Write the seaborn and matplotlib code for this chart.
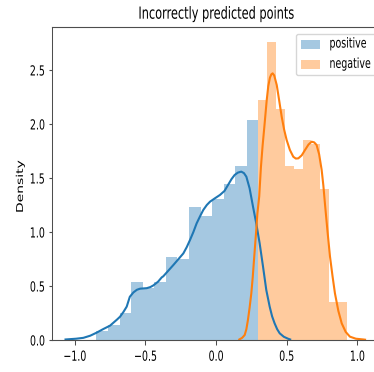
import matplotlib
matplotlib.use("Agg")
import matplotlib.pyplot as plt
from matplotlib.patches import Patch
from matplotlib.patheffects import AbstractPathEffect
from matplotlib.transforms import Affine2D
import seaborn as sns

# ---- histogram of misclassified scores (density per bin) ----
pos_bin_mid = [-0.805, -0.723, -0.641, -0.559, -0.478, -0.396, -0.314,
               -0.232, -0.150, -0.069, 0.013, 0.095, 0.177, 0.259]
pos_density = [0.083, 0.139, 0.247, 0.534, 0.485, 0.534, 0.772,
               0.750, 1.228, 1.148, 1.310, 1.441, 1.614, 2.037]
pos_bin_range = (-0.846, 0.300)

neg_bin_mid = [0.331, 0.394, 0.456, 0.519, 0.581, 0.644, 0.706, 0.769, 0.831, 0.894]
neg_density = [2.222, 2.756, 2.142, 1.614, 1.585, 1.852, 1.815, 1.398, 0.349, 0.349]
neg_bin_range = (0.300, 0.925)

# ---- kernel density curves ----
pos_kde_x = [-1.065, -0.99, -0.939, -0.89, -0.845, -0.80, -0.750, -0.70, -0.679,
             -0.655, -0.632, -0.61, -0.585, -0.56, -0.538, -0.51, -0.49, -0.465,
             -0.444, -0.41, -0.384, -0.373, -0.302, -0.231, -0.207, -0.184, -0.16,
             -0.137, -0.113, -0.090, -0.065, -0.042, -0.01, 0.028, 0.06, 0.085,
             0.11, 0.132, 0.155, 0.179, 0.198, 0.215, 0.238, 0.262, 0.285, 0.309,
             0.333, 0.356, 0.380, 0.397, 0.415, 0.433, 0.451, 0.48, 0.510, 0.525]
pos_kde_y = [0.005, 0.012, 0.02, 0.04, 0.068, 0.10, 0.133, 0.19, 0.216,
             0.26, 0.309, 0.40, 0.44, 0.465, 0.475, 0.478, 0.48, 0.49,
             0.505, 0.54, 0.58, 0.59, 0.694, 0.802, 0.86, 0.926, 1.0,
             1.080, 1.145, 1.204, 1.25, 1.281, 1.31, 1.343, 1.38, 1.435,
             1.49, 1.528, 1.55, 1.559, 1.545, 1.512, 1.404, 1.235, 1.080, 0.895,
             0.679, 0.463, 0.309, 0.22, 0.154, 0.10, 0.062, 0.03, 0.012, 0.005]

neg_kde_x = [0.165, 0.185, 0.203, 0.215, 0.226, 0.238, 0.250, 0.26, 0.269, 0.277,
             0.285, 0.293, 0.306, 0.318, 0.33, 0.342, 0.359, 0.37, 0.382, 0.392,
             0.401, 0.412, 0.430, 0.447, 0.465, 0.482, 0.500, 0.523, 0.547, 0.565,
             0.583, 0.607, 0.630, 0.655, 0.677, 0.695, 0.712, 0.73, 0.748, 0.76,
             0.771, 0.789, 0.807, 0.825, 0.842, 0.866, 0.890, 0.918, 0.948, 0.99,
             1.043, 1.055]
neg_kde_y = [0.005, 0.02, 0.046, 0.10, 0.185, 0.30, 0.432, 0.58, 0.741, 0.88,
             1.019, 1.17, 1.33, 1.60, 1.80, 1.97, 2.22, 2.35, 2.43, 2.46,
             2.469, 2.45, 2.361, 2.22, 2.068, 1.95, 1.852, 1.76, 1.697, 1.68,
             1.682, 1.71, 1.759, 1.81, 1.836, 1.83, 1.806, 1.72, 1.574, 1.43,
             1.265, 1.01, 0.772, 0.59, 0.432, 0.27, 0.154, 0.075, 0.031, 0.012,
             0.005, 0.003]

series_names = ["positive", "negative"]
x_ticks = [-1.0, -0.5, 0.0, 0.5, 1.0]
y_ticks = [0.0, 0.5, 1.0, 1.5, 2.0, 2.5]
chart_title = "Incorrectly predicted points"
y_title = "Density"


class Narrow(AbstractPathEffect):
    """Draw text with condensed glyphs, scaled about a fixed anchor.

    fx / fy give the anchor as a fraction of the glyph extents;
    fy=None anchors vertically on the baseline.
    """

    def __init__(self, sx=1.0, sy=1.0, fx=0.5, fy=0.0):
        super().__init__()
        self._scale = (sx, sy)
        self._frac = (fx, fy)

    def draw_path(self, renderer, gc, tpath, affine, rgbFace=None):
        ext = tpath.get_extents()
        cx = ext.x0 + self._frac[0] * ext.width
        cy = 0.0 if self._frac[1] is None else ext.y0 + self._frac[1] * ext.height
        squeeze = Affine2D().translate(-cx, -cy).scale(*self._scale).translate(cx, cy)
        renderer.draw_path(gc, tpath, squeeze + affine, rgbFace)


SQ = 0.68          # horizontal condensing of the lettering
LEG_FS = 7.0       # legend layout font size
LEG_K = 10.0 / LEG_FS
EDGE = "0.3"

plt.rcParams["font.family"] = ["DejaVu Sans"]

fig = plt.figure(figsize=(3.74, 3.72), dpi=100)
ax = fig.add_axes([0.1382, 0.0860, 0.8775, 0.8414])

sns.histplot(x=pos_bin_mid, weights=pos_density, bins=len(pos_density),
             binrange=pos_bin_range, stat="count", color="C0", alpha=0.4,
             linewidth=0, ax=ax)
sns.lineplot(x=pos_kde_x, y=pos_kde_y, color="C0", linewidth=1.5, ax=ax)
sns.histplot(x=neg_bin_mid, weights=neg_density, bins=len(neg_density),
             binrange=neg_bin_range, stat="count", color="C1", alpha=0.4,
             linewidth=0, ax=ax)
sns.lineplot(x=neg_kde_x, y=neg_kde_y, color="C1", linewidth=1.5, ax=ax)

ax.set_xlim(-1.163, 1.16)
ax.set_ylim(0, 2.898)
ax.set_xticks(x_ticks)
ax.set_yticks(y_ticks)
ax.set_xlabel("")
ax.set_ylabel(y_title, fontsize=10)
ax.yaxis.set_label_coords(-0.0813, 0.49)
ax.set_title(chart_title, fontsize=12)

for side, spine in ax.spines.items():
    spine.set_color(EDGE)
ax.spines["left"].set_linewidth(0.8 * SQ + 0.2)
ax.tick_params(axis="y", length=3.5 * SQ, pad=3.5 * SQ, labelsize=10, color=EDGE)
ax.tick_params(axis="x", length=3.5, pad=3.5, width=0.8 * SQ + 0.2, labelsize=10,
               color=EDGE)

handles = [Patch(facecolor="C0", alpha=0.4, label=series_names[0]),
           Patch(facecolor="C1", alpha=0.4, label=series_names[1])]
leg = ax.legend(handles=handles, loc="upper left", bbox_to_anchor=(0.744, 0.9776),
                borderaxespad=0, fontsize=LEG_FS,
                borderpad=0.4 * LEG_K, labelspacing=1.06,
                handlelength=1.37 * LEG_K, handleheight=0.7 * LEG_K,
                handletextpad=0.65 * LEG_K)

for t in ax.get_xticklabels():
    t.set_path_effects([Narrow(sx=SQ, fx=0.5)])
for t in ax.get_yticklabels():
    t.set_path_effects([Narrow(sx=SQ, fx=1.0)])
for t in leg.get_texts():
    t.set_path_effects([Narrow(sx=SQ * LEG_K, sy=LEG_K, fx=0.0, fy=None)])
ax.title.set_path_effects([Narrow(sx=SQ, fx=0.5)])
ax.yaxis.label.set_path_effects([Narrow(sy=SQ, fy=0.0)])

fig.savefig("out.png", dpi=100)
